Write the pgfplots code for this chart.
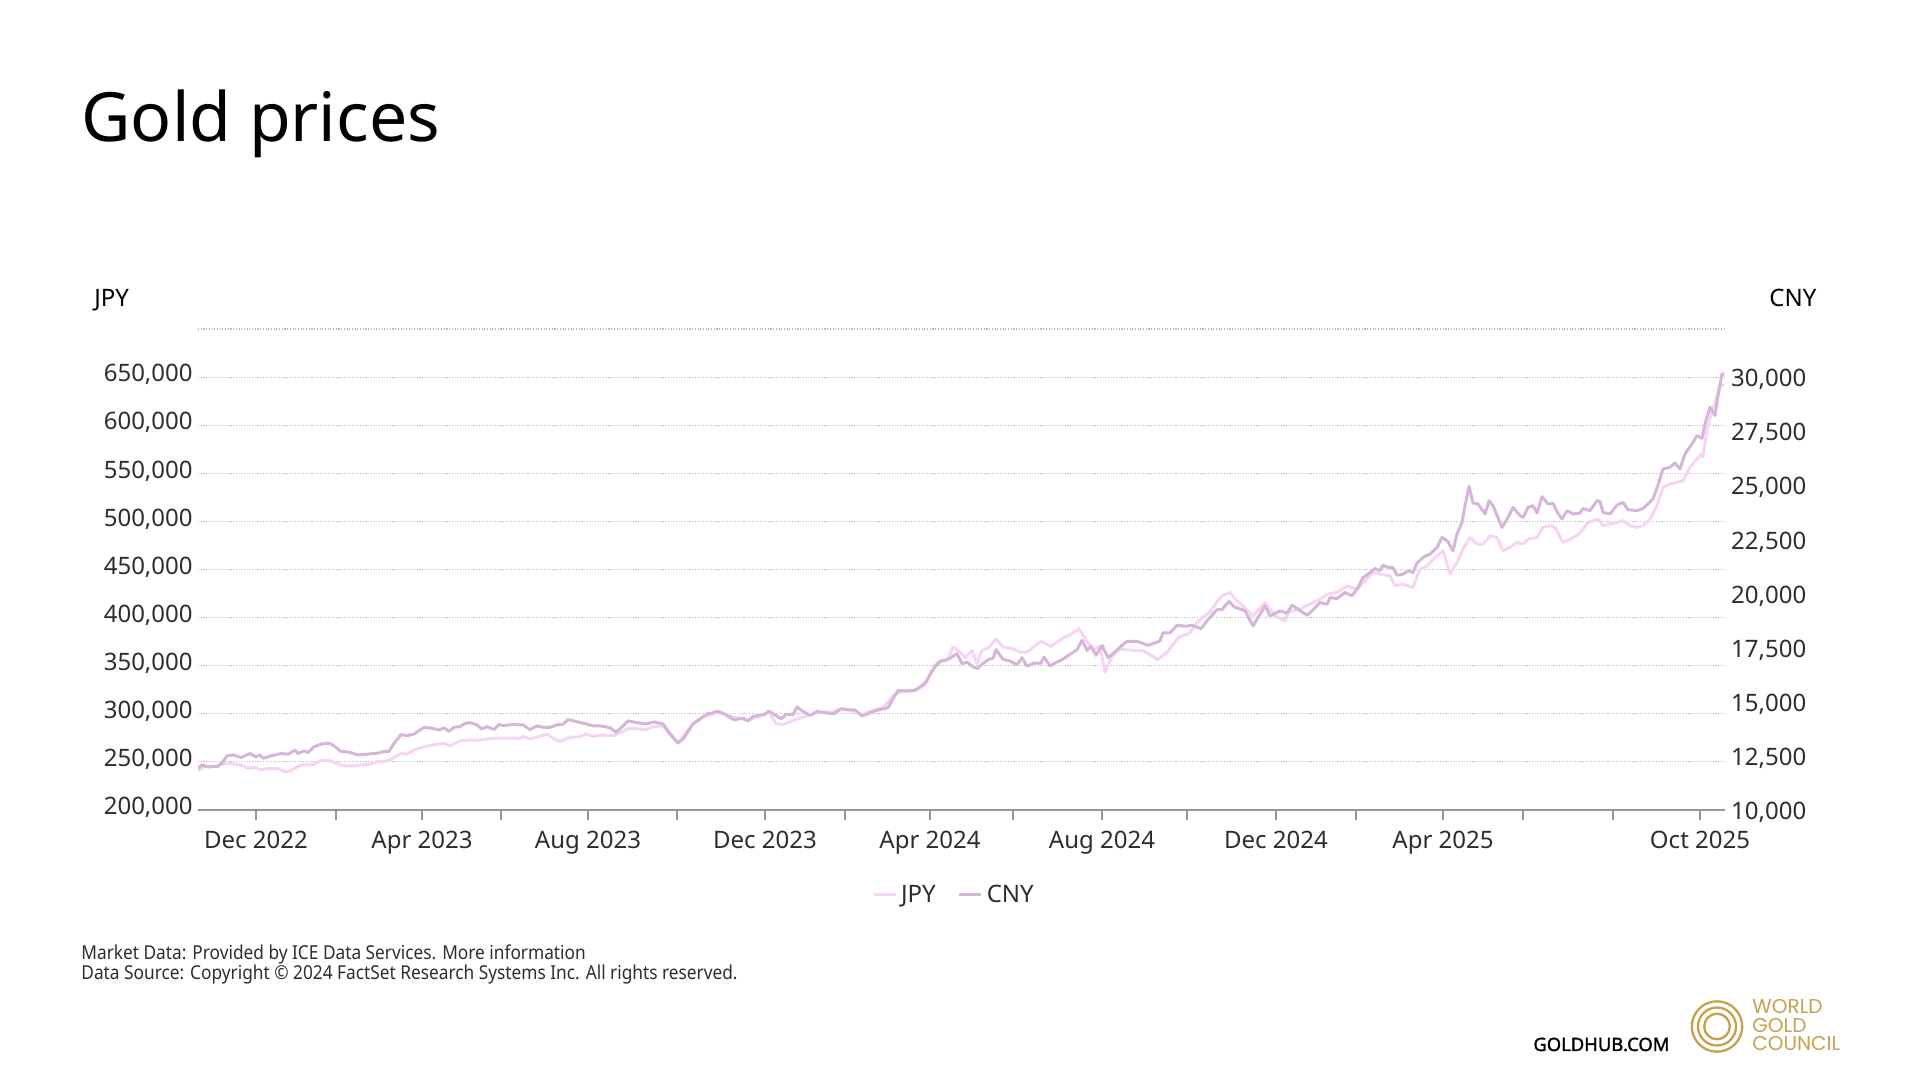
\documentclass[border=0pt]{standalone}
\usepackage{fontspec}
\setmainfont{Noto Sans}
\newfontfamily\condfont[FakeStretch=0.9]{Noto Sans}
\newfontfamily\boldfont[FakeBold=1.6]{Noto Sans}
\newfontfamily\logofont{Poppins}
\usepackage{pgfplots}
\pgfplotsset{compat=1.18}
\definecolor{jpycol}{RGB}{248,212,244}
\definecolor{cnycol}{RGB}{213,182,217}
\definecolor{ticktext}{RGB}{45,45,45}
\definecolor{gridcol}{RGB}{185,185,185}
\definecolor{axiscol}{RGB}{150,150,150}
\definecolor{goldcol}{RGB}{201,160,76}
\newcommand{\pos}[2]{({#1*0.5pt},{(1080-#2)*0.5pt})}
\pgfplotstableread{
x y
198 241200
205 245050
215 245400
225 248200
231 248200
241 246800
248 243300
255 244000
261 241900
268 243300
278 242950
286 239450
291 241200
301 246800
308 246800
314 247500
321 251350
328 251700
334 249600
341 246450
351 245750
361 246800
371 247850
377 250300
384 250300
391 252750
401 258700
407 258000
414 262200
424 265700
434 267800
444 269200
450 266750
460 272000
470 272700
480 272700
490 274450
500 274800
510 274800
520 274450
523 276550
530 273750
540 276550
547 278650
553 274450
560 271300
570 275500
580 276200
586 279000
593 276550
603 277950
613 277250
623 281800
629 284950
636 284600
646 283550
653 286700
663 287400
669 279000
678 269550
693 289500
702 296500
712 299300
717 301700
734 296500
748 293100
769 301700
776 289600
783 288900
793 293100
803 296500
814 300000
821 301700
831 301700
841 305200
852 303500
862 299300
872 303500
883 306300
893 319100
903 323600
914 324300
924 329500
931 343400
938 353800
948 357300
953 369500
958 366000
965 358300
972 366000
977 352100
982 366000
989 368800
996 378100
1003 369500
1013 367700
1020 364200
1027 364200
1041 375400
1051 370100
1062 378100
1072 383300
1079 388500
1084 379900
1093 366700
1100 370100
1105 343400
1112 359700
1120 367000
1134 366000
1144 365300
1158 356200
1168 365300
1179 379900
1189 383300
1199 397200
1210 405900
1218 418000
1223 423300
1230 426100
1237 417400
1243 412200
1253 401800
1265 415600
1275 401800
1285 396500
1288 405200
1303 410400
1313 415600
1320 419100
1327 424300
1337 426100
1347 433000
1357 429500
1365 438200
1373 446900
1380 445200
1390 443400
1395 433000
1403 434700
1413 431300
1420 450400
1427 453800
1435 462500
1443 469500
1450 445200
1457 457300
1463 471200
1470 483300
1477 476400
1483 476400
1490 485100
1497 483300
1503 469500
1510 472900
1517 478100
1523 476400
1528 481600
1537 483300
1543 493800
1550 495500
1555 493800
1563 478100
1570 481600
1577 485100
1583 492000
1588 499000
1593 500700
1598 502400
1603 495500
1610 497200
1617 499000
1623 500700
1630 495500
1637 493800
1643 495500
1650 502400
1657 516300
1663 535400
1670 538900
1677 540600
1683 542400
1690 556300
1697 564900
1702 570100
1703 566700
1707 596200
1713 617000
1720 641300
1724 641300
}\jpydata
\pgfplotstableread{
x y
198 11924
202 12080
208 11986
218 12017
222 12188
227 12500
233 12546
241 12422
250 12608
256 12453
260 12546
263 12391
271 12500
281 12608
288 12577
295 12764
298 12608
304 12733
308 12655
314 12920
321 13044
329 13091
334 12966
341 12702
348 12686
358 12546
367 12577
377 12624
384 12702
389 12702
394 13075
401 13480
407 13433
414 13511
424 13822
432 13775
439 13697
444 13791
449 13635
454 13822
460 13853
464 13977
470 14040
477 13931
482 13744
487 13853
494 13713
499 13946
503 13900
513 13946
523 13931
530 13713
537 13884
543 13822
550 13822
557 13931
563 13962
568 14180
576 14086
586 13977
593 13884
600 13884
610 13806
616 13588
623 13884
628 14117
636 14040
646 13977
654 14071
663 13977
669 13588
678 13091
683 13277
693 13977
699 14164
707 14444
712 14475
717 14569
724 14445
734 14167
743 14245
748 14106
753 14322
764 14399
769 14569
781 14214
786 14414
793 14414
797 14754
803 14553
810 14368
817 14553
827 14476
834 14445
841 14677
848 14630
855 14630
862 14337
872 14522
879 14630
888 14723
895 15294
898 15525
907 15494
915 15525
920 15680
926 15911
931 16328
936 16683
941 16883
946 16914
951 17037
957 17223
962 16760
967 16837
972 16652
977 16528
982 16729
988 16945
993 17006
996 17408
1003 16960
1010 16883
1017 16714
1022 17037
1027 16637
1034 16791
1041 16791
1044 17068
1050 16652
1055 16791
1062 16945
1070 17192
1077 17408
1082 17840
1087 17377
1091 17562
1096 17145
1102 17608
1108 17037
1113 17223
1122 17608
1127 17793
1137 17793
1148 17608
1155 17716
1160 17809
1163 18179
1170 18179
1177 18534
1186 18488
1192 18534
1201 18380
1208 18796
1217 19259
1222 19259
1229 19645
1234 19383
1239 19306
1245 19203
1253 18505
1265 19431
1270 18967
1280 19199
1287 19091
1292 19461
1307 18998
1312 19199
1320 19585
1327 19508
1330 19816
1337 19770
1345 20048
1352 19893
1358 20279
1363 20742
1368 20896
1375 21158
1380 21050
1383 21313
1388 21205
1393 21205
1397 20850
1403 20896
1408 21050
1413 20973
1417 21405
1423 21668
1430 21822
1437 22131
1442 22594
1448 22393
1453 21976
1457 22748
1462 23288
1465 24059
1469 24954
1473 24183
1478 24137
1485 23674
1489 24291
1493 24059
1502 23056
1508 23519
1513 23982
1520 23597
1523 23519
1528 23982
1533 24059
1537 23720
1542 24476
1548 24137
1553 24167
1557 23782
1562 23442
1567 23828
1573 23674
1580 23720
1583 23936
1590 23828
1597 24291
1600 24245
1603 23751
1610 23674
1617 24090
1623 24214
1628 23874
1637 23828
1643 23936
1648 24137
1653 24368
1658 25016
1663 25757
1670 25834
1675 26034
1680 25757
1685 26451
1693 26991
1697 27300
1702 27176
1705 27840
1710 28611
1715 28226
1718 29151
1722 30154
1724 30100
}\cnydata
\begin{document}
\begin{tikzpicture}
\path[use as bounding box] (0,0) rectangle (960pt,540pt);
% titles and texts
\node[anchor=base west, inner sep=0pt, font=\fontsize{34}{38}\selectfont] at \pos{81}{142} {Gold prices};
\node[anchor=base west, inner sep=0pt, font=\fontsize{12}{14}\selectfont] at \pos{94}{307} {JPY};
\node[anchor=base west, inner sep=0pt, font=\fontsize{12}{14}\selectfont] at \pos{1769}{307} {CNY};
\node[anchor=base west, inner sep=0pt, text=ticktext, font=\condfont\fontsize{9.6}{10}\selectfont] at \pos{81}{960} {Market Data: Provided by ICE Data Services. More information};
\node[anchor=base west, inner sep=0pt, text=ticktext, font=\condfont\fontsize{9.6}{10}\selectfont] at \pos{81}{979.5} {Data Source: Copyright © 2024 FactSet Research Systems Inc. All rights reserved.};
\node[anchor=base west, inner sep=0pt, font=\boldfont\fontsize{9.2}{10}\selectfont] at \pos{1533}{1051} {GOLDHUB.COM};
\node[anchor=base west, inner sep=0pt, text=goldcol, font=\logofont\fontsize{10}{11}\selectfont] at \pos{1752}{1013.5} {WORLD};
\node[anchor=base west, inner sep=0pt, text=goldcol, font=\logofont\fontsize{10}{11}\selectfont] at \pos{1752}{1032.3} {GOLD};
\node[anchor=base west, inner sep=0pt, text=goldcol, font=\logofont\fontsize{10}{11}\selectfont] at \pos{1752}{1051} {COUNCIL};
\draw[goldcol, line width=1.15pt] \pos{1717}{1026.5} circle (12.6pt);
\draw[goldcol, line width=1.15pt] \pos{1717}{1026.5} circle (9.5pt);
\draw[goldcol, line width=1.15pt] \pos{1717}{1026.5} circle (6.4pt);
% left axis: JPY
\begin{axis}[
  at={(99pt,135pt)}, anchor=south west, scale only axis,
  width=763.5pt, height=240.5pt,
  xmin=198, xmax=1725, ymin=200000, ymax=700000,
  scaled y ticks=false, scaled x ticks=false,
  axis lines*=left,
  y axis line style={draw=none},
  x axis line style={axiscol, line width=0.8pt, -},
  ytick={200000,250000,300000,350000,400000,450000,500000,550000,600000,650000,700000},
  yticklabels={{200,000},{250,000},{300,000},{350,000},{400,000},{450,000},{500,000},{550,000},{600,000},{650,000},{}},
  ymajorgrids,
  grid style={gridcol, line width=0.55pt, dash pattern=on 0.55pt off 0.8pt},
  major y tick style={draw=none},
  xtick={256,336,422,501,588,677,765,845,930,1013,1102,1187,1276,1356,1443,1523,1613,1700},
  xticklabels={Dec 2022,,Apr 2023,,Aug 2023,,Dec 2023,,Apr 2024,,Aug 2024,,Dec 2024,,Apr 2025,,,Oct 2025},
  tick align=outside, major tick length=5pt,
  major x tick style={axiscol, line width=0.7pt},
  ticklabel style={font=\fontsize{12}{14}\selectfont, text=ticktext},
  yticklabel style={anchor=base east, inner sep=0pt, xshift=2.5pt, yshift=-2.4pt},
  xticklabel style={anchor=north, inner sep=0pt, yshift=-5.5pt},
  legend style={at={(0.4957,-0.1767)}, anchor=center, draw=none, fill=none,
    legend columns=2, font=\fontsize{12}{14}\selectfont, text=ticktext,
    /tikz/every even column/.append style={column sep=9pt}},
  legend image code/.code={\draw[#1, line width=1.5pt] (0pt,0pt) -- (11pt,0pt);},
]
\addplot[jpycol, line width=1.5pt, line join=round] table[x=x,y=y] {\jpydata};
\addlegendentry{JPY}
\addlegendimage{cnycol, line width=1.5pt}
\addlegendentry{CNY}
\end{axis}
% right axis: CNY
\begin{axis}[
  at={(99pt,135pt)}, anchor=south west, scale only axis,
  width=763.5pt, height=240.5pt,
  xmin=198, xmax=1725, ymin=10000, ymax=32222.22,
  scaled y ticks=false, scaled x ticks=false,
  axis x line=none, axis y line*=right,
  y axis line style={draw=none},
  major y tick style={draw=none},
  ytick={10000,12500,15000,17500,20000,22500,25000,27500,30000},
  yticklabels={{10,000},{12,500},{15,000},{17,500},{20,000},{22,500},{25,000},{27,500},{30,000}},
  ticklabel style={font=\fontsize{12}{14}\selectfont, text=ticktext},
  yticklabel style={anchor=base west, inner sep=0pt, xshift=2.9pt, yshift=-4.8pt},
]
\addplot[cnycol, line width=1.5pt, line join=round] table[x=x,y=y] {\cnydata};
\end{axis}
\end{tikzpicture}
\end{document}
